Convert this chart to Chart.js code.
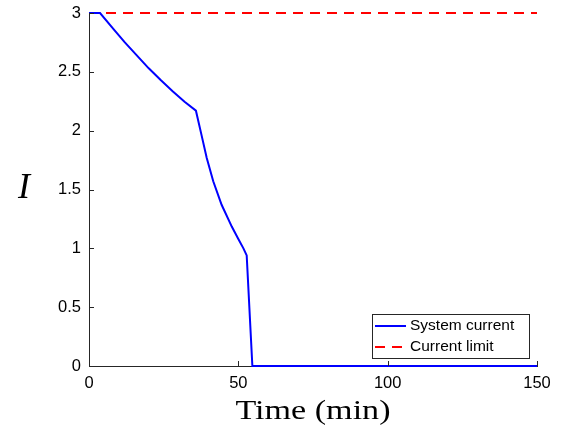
<!DOCTYPE html>
<html>
<head>
<meta charset="utf-8">
<script src="https://cdn.jsdelivr.net/npm/chart.js@4/dist/chart.umd.min.js"></script>
<style>
    html, body { margin: 0; padding: 0; background: #fff; }
    canvas { display: block; }
</style>
</head>
<body>
<canvas id="chart" width="564" height="441"></canvas>
<script>
// Данные
const timeValues = [0, 3.7, 8, 12, 16, 20, 24, 28, 32, 35.8, 37.7, 39.4, 41.6, 44.4, 47.8, 50, 51.7, 52.8, 54.7, 150];
const currentValues = [3, 3, 2.87, 2.75, 2.64, 2.53, 2.43, 2.335, 2.245, 2.17, 1.96, 1.77, 1.57, 1.37, 1.185, 1.08, 1.0, 0.94, 0, 0];
const limitTime = [0, 150];
const limitValues = [3, 3];
const xTicks = [0, 50, 100, 150];
const yTicks = [0, 0.5, 1, 1.5, 2, 2.5, 3];

const AXIS_COLOR = '#262626';
const TICK_FONT = { family: 'Liberation Sans, Arial, sans-serif', size: 16.5 };

const toPoints = (xs, ys) => xs.map((x, i) => ({ x, y: ys[i] }));

// Засечки внутрь, подписи осей и легенда в стиле MATLAB
const matlabDecor = {
    id: 'matlabDecor',
    afterDraw(chart) {
        const { ctx, chartArea, scales } = chart;
        const tick = 5;
        ctx.save();
        ctx.strokeStyle = AXIS_COLOR;
        ctx.lineWidth = 1;
        ctx.beginPath();
        xTicks.forEach(v => {
            const px = Math.round(scales.x.getPixelForValue(v)) + 0.5;
            ctx.moveTo(px, chartArea.bottom);
            ctx.lineTo(px, chartArea.bottom - tick);
        });
        yTicks.forEach(v => {
            const py = Math.round(scales.y.getPixelForValue(v)) + 0.5;
            ctx.moveTo(chartArea.left, py);
            ctx.lineTo(chartArea.left + tick, py);
        });
        ctx.stroke();

        // подпись оси Y
        ctx.fillStyle = '#000';
        ctx.font = 'italic 36px "Liberation Serif", serif';
        ctx.textAlign = 'center';
        ctx.textBaseline = 'alphabetic';
        ctx.fillText('I', 24, 198);

        // подпись оси X
        ctx.font = '27px "Liberation Serif", serif';
        const label = 'Time (min)';
        const w = ctx.measureText(label).width;
        const cx = (chartArea.left + chartArea.right) / 2;
        ctx.translate(cx, 419);
        ctx.scale(155 / w, 1);
        ctx.fillText(label, 0, 0);
        ctx.setTransform(1, 0, 0, 1, 0, 0);

        // легенда
        const box = { x: 372, y: 314, w: 157, h: 44 };
        ctx.fillStyle = '#fff';
        ctx.fillRect(box.x, box.y, box.w, box.h);
        ctx.strokeStyle = '#262626';
        ctx.lineWidth = 1;
        ctx.strokeRect(box.x + 0.5, box.y + 0.5, box.w, box.h);
        ctx.font = '15.5px "Liberation Sans", Arial, sans-serif';
        ctx.textAlign = 'left';
        ctx.textBaseline = 'middle';
        chart.data.datasets.forEach((ds, i) => {
            const rowY = box.y + 12 + i * 21;
            ctx.strokeStyle = ds.borderColor;
            ctx.lineWidth = ds.borderWidth;
            ctx.setLineDash(ds.borderDash || []);
            ctx.beginPath();
            ctx.moveTo(375, rowY);
            ctx.lineTo(406, rowY);
            ctx.stroke();
            ctx.setLineDash([]);
            ctx.fillStyle = '#000';
            ctx.fillText(ds.label, 410, rowY);
        });
        ctx.restore();
    }
};

new Chart(document.getElementById('chart'), {
    type: 'line',
    data: {
        datasets: [
            {
                label: 'System current',
                data: toPoints(timeValues, currentValues),
                borderColor: '#0000ff',
                borderWidth: 2,
                pointRadius: 0,
                tension: 0,
                clip: false,
            },
            {
                label: 'Current limit',
                data: toPoints(limitTime, limitValues),
                borderColor: '#ff0000',
                borderWidth: 2,
                borderDash: [10, 7],
                pointRadius: 0,
                clip: false,
            },
        ],
    },
    options: {
        responsive: false,
        animation: false,
        devicePixelRatio: 1,
        layout: {
            padding: { top: 13, right: 27, left: 0, bottom: 0 },
        },
        plugins: {
            legend: { display: false },
            tooltip: { enabled: false },
        },
        scales: {
            x: {
                type: 'linear',
                min: 0,
                max: 150,
                afterFit: (scale) => {
                    scale.height = 75;
                    scale.paddingLeft = 0;
                    scale.paddingRight = 0;
                },
                afterBuildTicks: (scale) => { scale.ticks = xTicks.map(v => ({ value: v })); },
                grid: { drawOnChartArea: false, drawTicks: false },
                border: { color: AXIS_COLOR, width: 1 },
                ticks: { color: '#000', font: TICK_FONT, padding: 8, maxRotation: 0, callback: (v) => String(v) },
            },
            y: {
                type: 'linear',
                min: 0,
                max: 3,
                afterFit: (scale) => {
                    scale.width = 89;
                    scale.paddingTop = 0;
                    scale.paddingBottom = 0;
                },
                afterBuildTicks: (scale) => { scale.ticks = yTicks.map(v => ({ value: v })); },
                grid: { drawOnChartArea: false, drawTicks: false },
                border: { color: AXIS_COLOR, width: 1 },
                ticks: { color: '#000', font: TICK_FONT, padding: 8, callback: (v) => String(v) },
            },
        },
    },
    plugins: [matlabDecor],
});
</script>
</body>
</html>
